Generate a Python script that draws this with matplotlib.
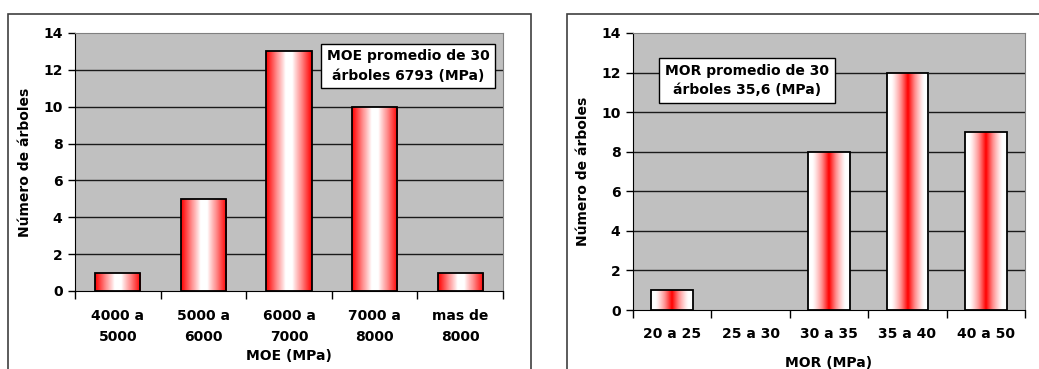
import numpy as np
import matplotlib
matplotlib.use("Agg")
import matplotlib.pyplot as plt
from matplotlib.patches import Rectangle
from matplotlib.colors import LinearSegmentedColormap

moe_cats = ["4000 a\n5000", "5000 a\n6000", "6000 a\n7000", "7000 a\n8000", "mas de\n8000"]
moe_vals = [1, 5, 13, 10, 1]
mor_cats = ["20 a 25", "25 a 30", "30 a 35", "35 a 40", "40 a 50"]
mor_vals = [1, 0, 8, 12, 9]
yticks = [0, 2, 4, 6, 8, 10, 12, 14]

W, H = 1039, 369
fig = plt.figure(figsize=(W / 100, H / 100), dpi=100)
plt.rcParams['font.family'] = ['DejaVu Sans']

def fx(px):
    return px / W

def fy(py):
    return 1 - py / H

# panel frames
for x0, x1 in [(8, 531), (567, 1045)]:
    fig.patches.append(Rectangle((fx(x0), fy(375)), fx(x1) - fx(x0), fy(14) - fy(375),
                                 transform=fig.transFigure, fill=False,
                                 edgecolor="#404040", linewidth=1.2))

cmap = LinearSegmentedColormap.from_list("rw", [(1, 1, 1), (1, 0.55, 0.55), (1, 0, 0)])

def panel(ax, cats, vals, xlabel, edges_red, box_text, box_xy, pad, xlabpad):
    ax.set_facecolor("#C0C0C0")
    x = np.arange(len(cats))
    bars = ax.bar(x, vals, width=0.53, facecolor="none", edgecolor="black", linewidth=1.3, zorder=3)
    prof = np.linspace(-1, 1, 200)
    t = np.abs(prof)
    if edges_red:
        g = np.clip((t - 0.15) / 0.85, 0, 1) ** 0.9
    else:
        g = np.clip(1 - t / 0.8, 0, 1) ** 1.3
    img = g[np.newaxis, :]
    for b in bars:
        if b.get_height() <= 0:
            b.set_linewidth(0)
            continue
        im = ax.imshow(img, cmap=cmap, vmin=0, vmax=1, aspect="auto",
                       extent=(b.get_x(), b.get_x() + b.get_width(), 0, b.get_height()),
                       zorder=2, interpolation="bilinear")
        im.set_clip_path(b)
    ax.set_xlim(-0.5, len(cats) - 0.5)
    ax.set_ylim(0, 14)
    ax.set_yticks(yticks)
    ax.set_yticklabels([str(v) for v in yticks], fontsize=10, fontweight="bold")
    for v in yticks[1:-1]:
        ax.axhline(v, color="#1a1a1a", linewidth=1.0, zorder=1)
    ax.set_xticks(np.arange(len(cats) + 1) - 0.5, minor=False)
    ax.set_xticklabels([])
    ax.set_xticks(x, minor=True)
    ax.set_xticklabels(cats, minor=True, fontsize=10, fontweight="bold", linespacing=1.6)
    ax.tick_params(axis="x", which="minor", length=0, pad=pad)
    ax.tick_params(axis="x", which="major", length=6, direction="out", width=1)
    ax.tick_params(axis="y", length=5, direction="out", width=1, pad=4)
    ax.set_xlabel(xlabel, fontsize=10, fontweight="bold", labelpad=xlabpad)
    ax.set_ylabel("Número de árboles", fontsize=10, fontweight="bold", labelpad=8)
    for s in ["top", "right"]:
        ax.spines[s].set_color("#808080")
    for s in ["left", "bottom"]:
        ax.spines[s].set_color("black")
    ax.text(box_xy[0], box_xy[1], box_text, transform=ax.transAxes, ha="center", va="center",
            fontsize=10, fontweight="bold", linespacing=1.5, zorder=5,
            bbox=dict(boxstyle="square,pad=0.4", facecolor="white", edgecolor="black", linewidth=1))

ax1 = fig.add_axes([fx(75), fy(291), fx(503) - fx(75), fy(33) - fy(291)])
panel(ax1, moe_cats, moe_vals, "MOE (MPa)", True, "MOE promedio de 30\nárboles 6793 (MPa)",
      ((408 - 75) / (503 - 75), (291 - 66) / (291 - 33)), 13, 3.5)
ax2 = fig.add_axes([fx(633), fy(310), fx(1025) - fx(633), fy(33) - fy(310)])
panel(ax2, mor_cats, mor_vals, "MOR (MPa)", False, "MOR promedio de 30\nárboles 35,6 (MPa)",
      ((747 - 633) / (1025 - 633), (310 - 80.5) / (310 - 33)), 12, 11)

fig.savefig("out.png", dpi=100)
